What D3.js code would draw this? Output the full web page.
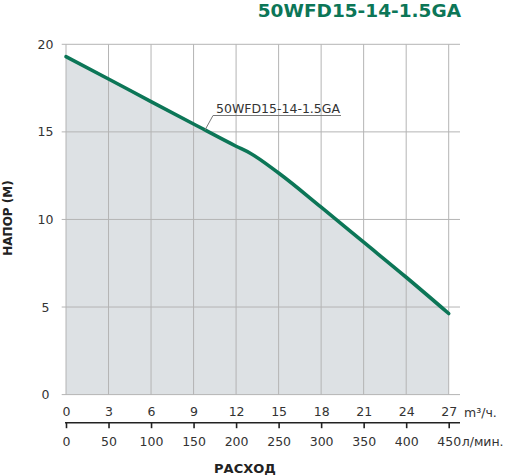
<!DOCTYPE html>
<html>
<head>
<meta charset="utf-8">
<script src="https://cdn.jsdelivr.net/npm/d3@7"></script>
<style>
  html, body { margin: 0; padding: 0; background: #fff; }
  svg { display: block; font-family: "DejaVu Sans", sans-serif; }
</style>
</head>
<body>
<svg id="chart" width="508" height="476"></svg>
<script>
// Data
const flowM3 = [0, 3, 6, 9, 12, 13, 15, 18, 21, 24, 27];
const head   = [19.3, 18.02, 16.73, 15.45, 14.18, 13.78, 12.65, 10.7, 8.7, 6.7, 4.63];
const m3Ticks = [0, 3, 6, 9, 12, 15, 18, 21, 24, 27];
const lpmTicks = [0, 50, 100, 150, 200, 250, 300, 350, 400, 450];
const headTicks = [0, 5, 10, 15, 20];
const model = '50WFD15-14-1.5GA';

const green = '#0c7657';
const svg = d3.select('#chart');

const x = d3.scaleLinear().domain([0, 27]).range([66, 448.7]);
const xl = d3.scaleLinear().domain([0, 450]).range([66, 448.7]);
const y = d3.scaleLinear().domain([0, 20]).range([394.6, 44.3]);

const gridLeft = 61.7, gridRight = 460;

// Title
svg.append('text')
  .attr('x', 461).attr('y', 16.8)
  .attr('text-anchor', 'end')
  .attr('font-size', 18.5).attr('font-weight', 700)
  .attr('fill', green)
  .text(model);

// Area under curve
const pts = flowM3.map((q, i) => ({ q, h: head[i] }));
svg.append('path')
  .datum(pts)
  .attr('fill', '#dde1e4')
  .attr('d', d3.area().x(d => x(d.q)).y0(y(0)).y1(d => y(d.h)).curve(d3.curveMonotoneX));

// Grid
svg.append('g').selectAll('line')
  .data(headTicks)
  .enter().append('line')
  .attr('x1', gridLeft).attr('x2', gridRight)
  .attr('y1', d => y(d)).attr('y2', d => y(d))
  .attr('stroke', '#b4b4b4').attr('stroke-width', 1);

svg.append('g').selectAll('line')
  .data(m3Ticks)
  .enter().append('line')
  .attr('x1', d => x(d)).attr('x2', d => x(d))
  .attr('y1', y(20)).attr('y2', y(0))
  .attr('stroke', '#b4b4b4').attr('stroke-width', 1);

// Y labels
svg.append('g').selectAll('text')
  .data(headTicks)
  .enter().append('text')
  .attr('x', 45.5).attr('y', d => y(d) + 4.5)
  .attr('text-anchor', 'middle')
  .attr('font-size', 12.5).attr('fill', '#333')
  .text(d => d);

svg.append('text')
  .attr('transform', 'translate(12,218) rotate(-90)')
  .attr('text-anchor', 'middle')
  .attr('font-size', 12).attr('font-weight', 700).attr('fill', '#222')
  .text('НАПОР (М)');

// Curve
svg.append('path')
  .datum(pts)
  .attr('fill', 'none')
  .attr('stroke', green).attr('stroke-width', 3.6)
  .attr('stroke-linecap', 'round')
  .attr('d', d3.line().x(d => x(d.q)).y(d => y(d.h)).curve(d3.curveMonotoneX));

// Curve label with leader
const lab = svg.append('g');
lab.append('polyline')
  .attr('points', `205,130 213,115.5 341,115.5`)
  .attr('fill', 'none').attr('stroke', '#777').attr('stroke-width', 1);
lab.append('text')
  .attr('x', 216).attr('y', 112.6)
  .attr('font-size', 12.5).attr('fill', '#333')
  .text(model);

// Bottom axis: m3/h
const axM3 = svg.append('g')
  .attr('transform', `translate(0,${y(0)})`)
  .call(d3.axisBottom(x).tickValues(m3Ticks).tickSize(0).tickPadding(12.7));
axM3.select('.domain').remove();
axM3.selectAll('text').attr('font-size', 12.5).attr('fill', '#333').attr('font-family', 'DejaVu Sans');

svg.append('text')
  .attr('x', 464).attr('y', 416.5)
  .attr('font-size', 12.5).attr('fill', '#333')
  .text('m³/ч.');

// Bottom axis: l/min
const axL = svg.append('g')
  .attr('transform', 'translate(0,422.7)')
  .call(d3.axisBottom(xl).tickValues(lpmTicks).tickSize(5.5).tickPadding(8.5));
axL.select('.domain').remove();
axL.selectAll('.tick line').attr('stroke', '#222').attr('stroke-width', 1.6);
axL.selectAll('text').attr('font-size', 12.5).attr('fill', '#333').attr('font-family', 'DejaVu Sans');
axL.append('line')
  .attr('x1', 65).attr('x2', gridRight)
  .attr('stroke', '#222').attr('stroke-width', 1.6);

svg.append('text')
  .attr('x', 461.7).attr('y', 445.5)
  .attr('font-size', 12.5).attr('fill', '#333')
  .text('л/мин.');

svg.append('text')
  .attr('x', 245).attr('y', 473)
  .attr('text-anchor', 'middle')
  .attr('font-size', 13).attr('font-weight', 700).attr('fill', '#222')
  .text('РАСХОД');
</script>
</body>
</html>
